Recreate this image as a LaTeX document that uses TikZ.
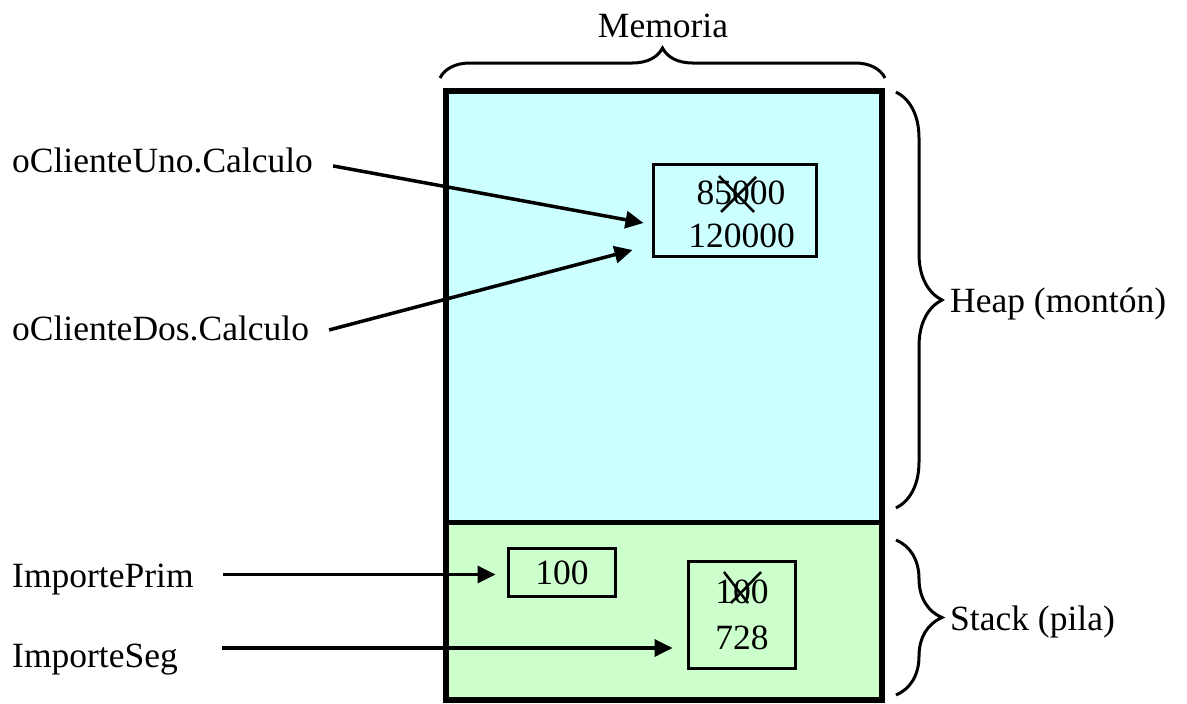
\documentclass[tikz,border=0pt]{standalone}
\usepackage{fontspec}
\setmainfont{Liberation Serif}
\usetikzlibrary{arrows.meta,decorations.pathreplacing,calc}
\definecolor{heapc}{HTML}{CCFFFF}
\definecolor{stackc}{HTML}{CCFFCC}

\begin{document}
\begin{tikzpicture}[x=1pt,y=-1pt,
  txt/.style={font=\fontsize{35.5}{42}\selectfont, inner sep=0pt},
  lbl/.style={txt, anchor=base west},
  cell/.style={draw, line width=3pt, inner sep=0pt},
  ptr/.style={line width=3.5pt, -{Triangle[length=18pt,width=17pt]}},
  brc/.style={decorate, decoration={brace, amplitude=#1}, line width=3pt},
  cross/.style={line width=2.5pt},
]
\useasboundingbox (0,0) rectangle (1187,704);

% memory block: heap above, stack below
\fill[heapc] (446,91) rectangle (882,522);
\fill[stackc] (446,522) rectangle (882,700);
\draw[line width=6.5pt] (446,91) rectangle (882,700);
\draw[line width=5pt] (446,522) -- (882,522);

% braces and their captions
\coordinate (memL) at (440,78);
\coordinate (memR) at (885,78);
\draw[brc=30] (memL) -- (memR);
\node[txt, anchor=base] (mem) at (663,37) {Memoria};

\coordinate (heapT) at (896,92);
\coordinate (heapB) at (896,508);
\draw[brc=46] (heapT) -- (heapB);
\node[lbl] (heap) at (950,312) {Heap (montón)};

\coordinate (stackT) at (896,540);
\coordinate (stackB) at (896,695);
\draw[brc=46] (stackT) -- (stackB);
\node[lbl] (stack) at (950,630) {Stack (pila)};

% heap cell
\node[cell, minimum width=163pt, minimum height=92pt] (hbox) at (735,210.5) {};
\node[txt] (hold) at (741,193) {85000};
\node[txt] (hnew) at (741.5,236) {120000};
\draw[cross] ([shift={(-22,-17)}]hold.center) -- ([shift={(13,19)}]hold.center);
\draw[cross] ([shift={(-20,19)}]hold.center) -- ([shift={(15,-16)}]hold.center);

% stack cells
\node[cell, minimum width=107pt, minimum height=48pt] (sprim) at (562,572.5) {};
\node[txt] (vprim) at (562,573) {100};
\node[cell, minimum width=107pt, minimum height=107pt] (sseg) at (742,615) {};
\node[txt] (sold) at (742,592) {100};
\node[txt] (snew) at (742,638) {728};
\draw[cross] ([shift={(-18,-20)}]sold.center) -- ([shift={(6,11)}]sold.center);
\draw[cross] ([shift={(-11,11)}]sold.center) -- ([shift={(19,-20)}]sold.center);

% variable names
\node[lbl] (uno) at (12,172) {oClienteUno.Calculo};
\node[lbl] (dos) at (12,340) {oClienteDos.Calculo};
\node[lbl] (prim) at (12,587) {ImportePrim};
\node[lbl] (seg) at (12,667) {ImporteSeg};

% references
\coordinate (unoT) at ($(hbox.west)+(-8.5,12.5)$);
\coordinate (dosT) at ($(hbox.west)+(-19.5,39.5)$);
\coordinate (primT) at ($(sprim.west)+(-11.5,2)$);
\coordinate (segT) at ($(sseg.west)+(-14.5,33)$);
\coordinate (primS) at ($(prim.east)+(29,0)$);
\coordinate (segS) at ($(seg.east)+(44,0)$);
\draw[ptr] ([shift={(20,6)}]uno.east) -- (unoT);
\draw[ptr] ([shift={(20,2)}]dos.east) -- (dosT);
\draw[ptr] (primS |- primT) -- (primT);
\draw[ptr] (segS |- segT) -- (segT);
\end{tikzpicture}
\end{document}
